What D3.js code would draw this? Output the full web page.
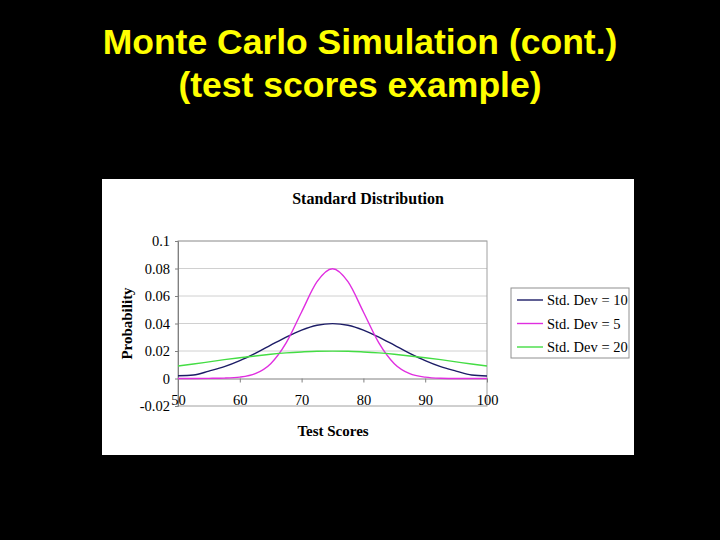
<!DOCTYPE html>
<html>
<head>
<meta charset="utf-8">
<script src="https://cdn.jsdelivr.net/npm/d3@7"></script>
<style>
  body { margin: 0; background: #000; }
  svg { display: block; }
</style>
</head>
<body>
<svg id="chart" width="720" height="540"></svg>
<script>
// Data
const scores = [50, 52.5, 55, 57.5, 60, 62.5, 65, 67.5, 70, 72.5, 75, 77.5, 80, 82.5, 85, 87.5, 90, 92.5, 95, 97.5, 100];
const sd10 = [0.0020, 0.0025, 0.0054, 0.0086, 0.0130, 0.0183, 0.0242, 0.0301, 0.0352, 0.0387, 0.0399, 0.0387, 0.0352, 0.0301, 0.0242, 0.0183, 0.0130, 0.0086, 0.0054, 0.0025, 0.0018];
const sd5 = [0, 0, 0.0001, 0.0003, 0.0010, 0.0035, 0.0108, 0.0259, 0.0484, 0.0704, 0.0798, 0.0704, 0.0484, 0.0259, 0.0108, 0.0035, 0.0010, 0.0002, 0, 0, 0];
const sd20 = [0.0091, 0.0105, 0.0121, 0.0137, 0.0151, 0.0164, 0.0176, 0.0186, 0.0193, 0.0198, 0.0199, 0.0198, 0.0193, 0.0186, 0.0176, 0.0164, 0.0151, 0.0137, 0.0121, 0.0105, 0.0091];
const seriesNames = ['Std. Dev = 10', 'Std. Dev = 5', 'Std. Dev = 20'];
const seriesColors = ['#1c1c66', '#e02ee0', '#44dd44'];
const xTicks = [50, 60, 70, 80, 90, 100];
const yTicks = [-0.02, 0, 0.02, 0.04, 0.06, 0.08, 0.1];

const svg = d3.select('#chart');

// Slide title
const title = svg.append('text')
  .attr('x', 360)
  .attr('text-anchor', 'middle')
  .style('font-family', 'Liberation Sans, Arial, sans-serif')
  .style('font-weight', 'bold')
  .style('font-size', '35.5px')
  .attr('fill', '#ffff00');
title.append('tspan').attr('x', 360).attr('y', 54).text('Monte Carlo Simulation (cont.)');
title.append('tspan').attr('x', 360).attr('y', 97).text('(test scores example)');

// White chart panel
svg.append('rect')
  .attr('x', 102).attr('y', 179)
  .attr('width', 532).attr('height', 276)
  .attr('fill', '#fff');

const serif = 'Liberation Serif, Times New Roman, serif';

svg.append('text')
  .attr('x', 368).attr('y', 204)
  .attr('text-anchor', 'middle')
  .style('font-family', serif).style('font-weight', 'bold').style('font-size', '16px')
  .text('Standard Distribution');

// Plot area
const margin = { left: 178, top: 241 };
const width = 309;
const height = 165;

const x = d3.scaleLinear().domain([50, 100]).range([0, width]);
const y = d3.scaleLinear().domain([-0.02, 0.1]).range([height, 0]);

const g = svg.append('g')
  .attr('transform', `translate(${margin.left},${margin.top})`);

// gridlines
g.append('g')
  .selectAll('line')
  .data(yTicks.filter((d) => d !== -0.02 && d !== 0))
  .enter().append('line')
  .attr('x1', 0).attr('x2', width)
  .attr('y1', (d) => y(d)).attr('y2', (d) => y(d))
  .attr('stroke', '#d0d0d0');

// frame
g.append('rect')
  .attr('x', 0).attr('y', 0)
  .attr('width', width).attr('height', height)
  .attr('fill', 'none')
  .attr('stroke', '#a0a0a0');

// y axis
const yAxis = d3.axisLeft(y).tickValues(yTicks).tickSize(3)
  .tickFormat((d) => (d === 0 ? '0' : String(+d.toFixed(2))));
g.append('g')
  .attr('class', 'y-axis')
  .call(yAxis)
  .call((s) => s.select('.domain').attr('stroke', '#808080'))
  .call((s) => s.selectAll('.tick line').attr('stroke', '#808080'))
  .call((s) => s.selectAll('text')
    .style('font-family', serif).style('font-size', '14.5px').attr('fill', '#000').attr('x', -8));

// x axis at zero
const xAxis = d3.axisBottom(x).tickValues(xTicks).tickSize(4).tickSizeOuter(0);
g.append('g')
  .attr('class', 'x-axis')
  .attr('transform', `translate(0,${y(0)})`)
  .call(xAxis)
  .call((s) => s.select('.domain').attr('stroke', '#808080'))
  .call((s) => s.selectAll('.tick line').attr('stroke', '#808080'))
  .call((s) => s.selectAll('text')
    .style('font-family', serif).style('font-size', '14.5px').attr('fill', '#000').attr('y', 16));

// lines
const series = [sd10, sd5, sd20];
const line = d3.line()
  .x((d, i) => x(scores[i]))
  .y((d) => y(d))
  .curve(d3.curveMonotoneX);

series.forEach((vals, k) => {
  g.append('path')
    .datum(vals)
    .attr('fill', 'none')
    .attr('stroke', seriesColors[k])
    .attr('stroke-width', 1.4)
    .attr('d', line);
});

// axis titles
svg.append('text')
  .attr('transform', `translate(132,${margin.top + y(0.04)}) rotate(-90)`)
  .attr('text-anchor', 'middle')
  .style('font-family', serif).style('font-weight', 'bold').style('font-size', '15px')
  .text('Probability');

svg.append('text')
  .attr('x', 333).attr('y', 436)
  .attr('text-anchor', 'middle')
  .style('font-family', serif).style('font-weight', 'bold').style('font-size', '15px')
  .text('Test Scores');

// legend
const legend = svg.append('g').attr('transform', 'translate(511,288)');
legend.append('rect')
  .attr('width', 118).attr('height', 70)
  .attr('fill', '#fff').attr('stroke', '#909090');
seriesNames.forEach((name, k) => {
  const ly = 12 + k * 23.5;
  legend.append('line')
    .attr('x1', 6).attr('x2', 32)
    .attr('y1', ly).attr('y2', ly)
    .attr('stroke', seriesColors[k]).attr('stroke-width', 1.4);
  legend.append('text')
    .attr('x', 36).attr('y', ly + 5)
    .style('font-family', serif).style('font-size', '14.5px')
    .text(name);
});
</script>
</body>
</html>
